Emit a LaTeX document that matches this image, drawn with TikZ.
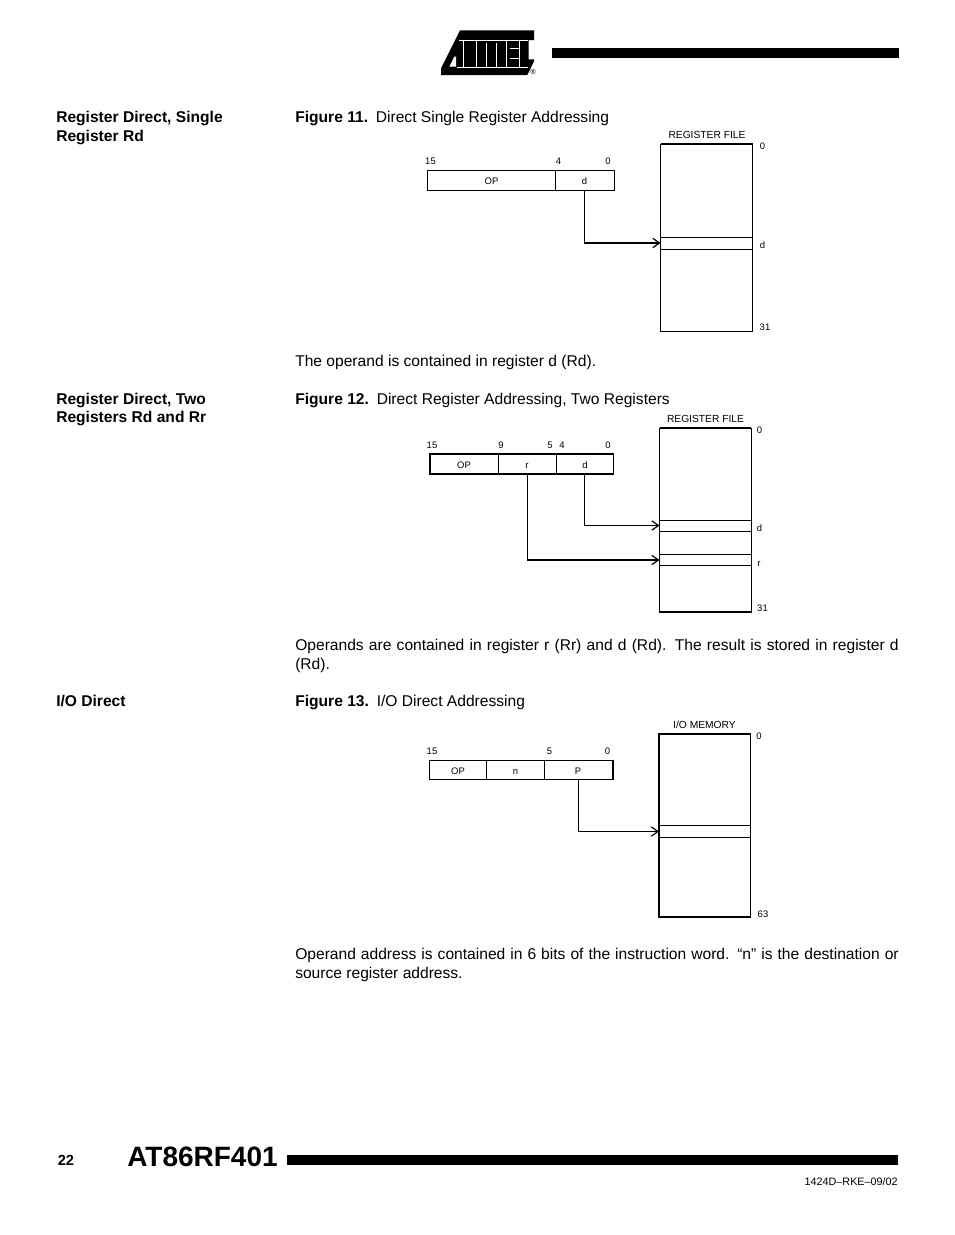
\documentclass[tikz,border=0pt]{standalone}
\usepackage{fontspec}
\setmainfont{Liberation Sans}
\usetikzlibrary{arrows.meta}
\tikzset{
  x=0.75pt,y=-0.75pt,
  body/.style={anchor=base west,inner sep=0pt,font=\fontsize{11.7}{14}\selectfont},
  head/.style={anchor=base west,inner sep=0pt,font=\fontsize{11.7}{14}\selectfont\bfseries},
  tiny/.style={anchor=base,inner sep=0pt,font=\fontsize{7.1}{8}\selectfont},
  filetitle/.style={anchor=base,inner sep=0pt,font=\fontsize{7.7}{9}\selectfont},
  bar/.style={fill=black,draw=none},
  box/.style={draw=black,line width=0.75pt,fill=none},
  thick box/.style={draw=black,line width=1.1pt,fill=none},
  rule/.style={draw=black,line width=0.75pt},
  link/.style={draw=black,line width=0.95pt,-{Straight Barb[length=5pt,width=7pt,line width=0.9pt]}},
  slit/.style={draw=white,line width=0.55pt},
}
\newcommand{\fullline}[1]{\makebox[452.6pt][s]{#1}}
\begin{document}
\begin{tikzpicture}
\useasboundingbox (0,0) rectangle (954,1235);
% logo (drawn in 3x coordinates)
\begin{scope}[shift={(420,0)},x=0.25pt,y=-0.25pt]
\fill (63,225) -- (63,205) -- (120,91) -- (342,91) -- (342,120) -- (326,120) -- (326,178) -- (342,178) -- (342,184) -- (322,225) -- cycle;
\fill[white] (88,200) -- (103,170) -- (108,170) -- (108,200) -- cycle;
\draw[slit] (116,121) -- (130,121) -- (130,203) (130,121) -- (324,121);
\draw[slit] (168,121) -- (168,203) (200,130) -- (200,203) (228,130) -- (228,203) (258,121) -- (258,203) (298,121) -- (298,203) (270,145) -- (298,145) (270,175) -- (298,175);
\draw[slit] (110,203) -- (324,203);
\end{scope}
\node[inner sep=0pt,font=\fontsize{5.5}{6}\selectfont] (reg) at (533,72) {®};
\fill[bar] (552,48) rectangle (899,58);
% left headings
\node[head] (h1a) at (56,122) {Register Direct, Single};
\node[head] (h1b) at (56,141) {Register Rd};
\node[head] (h2a) at (56,404) {Register Direct, Two};
\node[head] (h2b) at (56,422) {Registers Rd and Rr};
\node[head] (h3) at (56,706) {I/O Direct};
% captions
\node[body] (c1) at (295,122) {\textbf{Figure 11.}\hspace{0.5em}Direct Single Register Addressing};
\node[body] (c2) at (295,404) {\textbf{Figure 12.}\hspace{0.5em}Direct Register Addressing, Two Registers};
\node[body] (c3) at (295,706) {\textbf{Figure 13.}\hspace{0.5em}I/O Direct Addressing};
\node[body] (t1) at (295,366) {The operand is contained in register d (Rd).};
\node[body] (t2a) at (295,650) {\fullline{Operands are contained in register r (Rr) and d (Rd). The result is stored in register d}};
\node[body] (t2b) at (295,669) {(Rd).};
\node[body] (t3a) at (295,959) {\fullline{Operand address is contained in 6 bits of the instruction word. “n” is the destination or}};
\node[body] (t3b) at (295,978) {source register address.};
% Figure 11
\node[filetitle] (f1t) at (707,138) {REGISTER FILE};
\node[tiny] at (430.5,164) {15};
\node[tiny] at (558.5,164) {4};
\node[tiny] at (608,164) {0};
\node[tiny] at (762.5,149) {0};
\node[tiny] at (762.5,248) {d};
\node[tiny] at (765,330) {31};
\draw[box] (427.5,170.5) rectangle (614.5,190.5);
\draw[rule] (555.5,170.5) -- (555.5,190.5);
\draw[black,line width=1.1pt] (614.5,170.5) -- (614.5,190.5);
\node[tiny] (op1) at (491.5,184) {OP};
\node[tiny] (d1) at (584.5,184) {d};
\draw[box] (660.5,144) rectangle (752.5,331);
\draw[black,line width=1.1pt] (660.5,144) -- (752.5,144);
\draw[rule] (660.5,237.5) -- (752.5,237.5) (660.5,249.5) -- (752.5,249.5);
\coordinate (a1) at (660.5,243);
\coordinate (s1) at (584.5,190.5);
\draw[link] (s1) |- (a1);
% Figure 12
\node[filetitle] at (705.5,422) {REGISTER FILE};
\node[tiny] at (432,448) {15};
\node[tiny] at (501,448) {9};
\node[tiny] at (550,448) {5};
\node[tiny] at (562,448) {4};
\node[tiny] at (608,448) {0};
\node[tiny] at (759.5,433) {0};
\node[tiny] at (759.5,531) {d};
\node[tiny] at (759,566) {r};
\node[tiny] at (762.5,611) {31};
\draw[thick box] (430,454) rectangle (613.5,474);
\draw[rule] (498.5,454) -- (498.5,474) (556.5,454) -- (556.5,474);
\node[tiny] at (464,468) {OP};
\node[tiny] at (527,468) {r};
\node[tiny] at (585,468) {d};
\draw[box] (659.5,428) rectangle (751,612);
\draw[black,line width=1.1pt] (659.5,428) -- (751,428) (659.5,612) -- (751,612);
\draw[rule] (659.5,520.5) -- (751,520.5) (659.5,531.5) -- (751,531.5) (659.5,554.5) -- (751,554.5) (659.5,565.5) -- (751,565.5);
\coordinate (a2) at (659.5,525.5);
\coordinate (s2) at (584.5,474);
\coordinate (a3) at (659.5,560);
\coordinate (s3) at (527.5,474);
\draw[link] (s2) |- (a2);
\draw[link] (s3) |- (a3);
% Figure 13
\node[filetitle] at (704.5,728) {I/O MEMORY};
\node[tiny] at (432,754) {15};
\node[tiny] at (549.5,754) {5};
\node[tiny] at (607.5,754) {0};
\node[tiny] at (759,739) {0};
\node[tiny] at (763,917) {63};
\draw[box] (429.5,760) rectangle (613,779.5);
\draw[black,line width=1.1pt] (613,760) -- (613,779.5);
\draw[rule] (486.5,760) -- (486.5,779.5) (544.5,760) -- (544.5,779.5);
\node[tiny] at (458,774) {OP};
\node[tiny] at (515.5,774) {n};
\node[tiny] at (578,774) {P};
\draw[black,line width=1.3pt] (659,734) rectangle (750.5,917);
\draw[rule] (659,825.5) -- (750.5,825.5) (659,837.5) -- (750.5,837.5);
\coordinate (a4) at (659,831.5);
\coordinate (s4) at (578.5,779.5);
\draw[link] (s4) |- (a4);
% footer
\node[anchor=base west,inner sep=0pt,font=\fontsize{11}{12}\selectfont\bfseries] (pg) at (57.5,1165) {22};
\node[anchor=base west,inner sep=0pt,font=\fontsize{21}{26}\selectfont\bfseries] (ttl) at (127,1166) {AT86RF401};
\fill[bar] (287,1155) rectangle (898,1165);
\node[anchor=base east,inner sep=0pt,font=\fontsize{8.1}{10}\selectfont] (code) at (898,1185) {1424D–RKE–09/02};
\end{tikzpicture}
\end{document}
